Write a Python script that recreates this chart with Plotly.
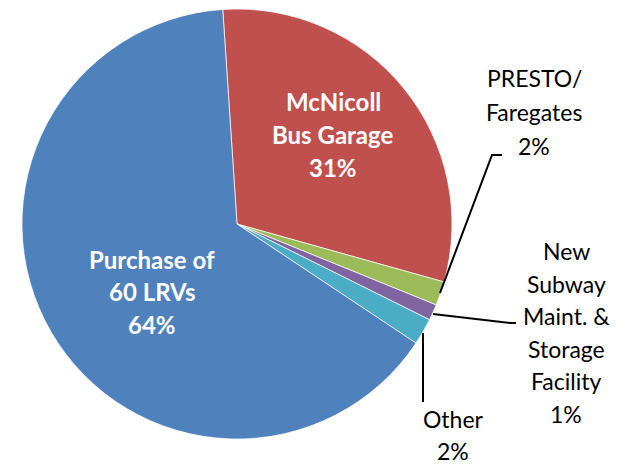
import plotly.graph_objects as go

# ---- data ----
categories = ["McNicoll Bus Garage", "PRESTO/ Faregates", "New Subway Maint. & Storage Facility",
              "Other", "Purchase of 60 LRVs"]
shares = [30.4, 1.8, 1.2, 2.0, 64.6]
pct_labels = ["31%", "2%", "1%", "2%", "64%"]
colors = ["#C0504D", "#9BBB59", "#8064A2", "#4BACC6", "#4F81BD"]

W, H = 631, 465
L, R, T, B = 22, 179, 9, 26
PW, PH = W - L - R, H - T - B

def px(x):
    return (x - L) / PW

def py(y):
    return 1 - (y - T) / PH

fig = go.Figure(go.Pie(
    labels=categories, values=shares, sort=False, direction="clockwise",
    rotation=-3.8, textinfo="none", hoverinfo="label+percent",
    marker=dict(colors=colors, line=dict(color="white", width=0.7)),
    showlegend=False,
))

FONT = "Lato"
annotations = []

def add_lines(lines, cx, cy0, spacing, color, bold=False, size=23):
    for i, t in enumerate(lines):
        txt = f"<b>{t}</b>" if bold else t
        annotations.append(dict(
            x=px(cx), y=py(cy0 + i * spacing), xref="paper", yref="paper",
            text=txt, showarrow=False, xanchor="center", yanchor="middle",
            font=dict(family=FONT, size=size, color=color)))

# inside labels
add_lines(["McNicoll", "Bus Garage", pct_labels[0]], 333, 101, 33, "white", bold=True, size=24)
add_lines(["Purchase of", "60 LRVs", pct_labels[4]], 152, 259, 32.5, "white", bold=True, size=24)
# outside labels
add_lines(["PRESTO/", "Faregates", pct_labels[1]], 534, 78, 34, "black")
add_lines(["New", "Subway", "Maint. &", "Storage", "Facility", pct_labels[2]], 566, 251, 32.5, "black")
add_lines(["Other", pct_labels[3]], 453, 419, 32, "black")

def path(points):
    s = "M " + " L ".join(f"{px(x):.5f},{py(y):.5f}" for x, y in points)
    return s

leaders = [
    [(440, 293), (492, 155), (502, 155)],
    [(433, 314), (511, 323), (516, 323)],
    [(423, 333), (423, 402)],
]
shapes = [dict(type="path", xref="paper", yref="paper", path=path(p),
               line=dict(color="black", width=2)) for p in leaders]

fig.update_layout(
    width=W, height=H,
    margin=dict(l=L, r=R, t=T, b=B, pad=0),
    paper_bgcolor="white", plot_bgcolor="white",
    annotations=annotations, shapes=shapes,
)

fig.write_html("out.html", config={"displayModeBar": False},
               post_script="document.body.style.margin='0';")
